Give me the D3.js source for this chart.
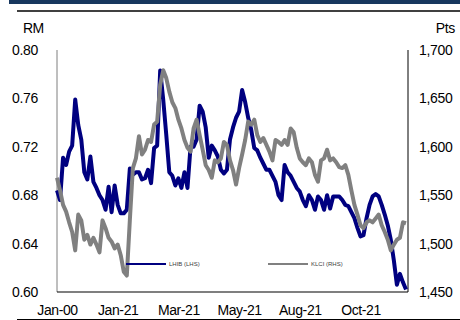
<!DOCTYPE html>
<html>
<head>
<meta charset="utf-8">
<script src="https://cdn.jsdelivr.net/npm/d3@7"></script>
<style>
  body { margin: 0; background: #fff; }
  text { font-family: Arial, "Liberation Sans", sans-serif; }
</style>
</head>
<body>
<div id="chart"></div>
<script>
// x axis labels (Excel category axis, one label every 20 points)
const xLabels = ["Jan-00", "Jan-21", "Mar-21", "May-21", "Aug-21", "Oct-21"];
const xLabelIdx = [0, 20, 40, 60, 80, 100];

const leftTicks = [0.60, 0.64, 0.68, 0.72, 0.76, 0.80];
const rightTicks = [1450, 1500, 1550, 1600, 1650, 1700];

// LHIB share price, RM (left axis)
const lhib = [
  0.684, 0.676, 0.711, 0.705, 0.716, 0.721, 0.759, 0.738, 0.726, 0.699,
  0.693, 0.712, 0.691, 0.686, 0.680, 0.676, 0.668, 0.687, 0.666, 0.688,
  0.672, 0.665, 0.665, 0.668, 0.702, 0.697, 0.699, 0.699, 0.693, 0.694,
  0.701, 0.690, 0.719, 0.721, 0.783, 0.759, 0.730, 0.699, 0.696, 0.688,
  0.694, 0.686, 0.699, 0.686, 0.720, 0.720, 0.726, 0.754, 0.749, 0.736,
  0.711, 0.721, 0.717, 0.712, 0.701, 0.698, 0.701, 0.726, 0.736, 0.744,
  0.749, 0.767, 0.757, 0.744, 0.734, 0.719, 0.717, 0.711, 0.706, 0.701,
  0.701, 0.696, 0.691, 0.680, 0.676, 0.705, 0.699, 0.696, 0.691, 0.686,
  0.683, 0.676, 0.671, 0.680, 0.676, 0.668, 0.679, 0.676, 0.668, 0.680,
  0.669, 0.679, 0.679, 0.679, 0.676, 0.672, 0.671, 0.666, 0.661, 0.653,
  0.646, 0.647, 0.661, 0.672, 0.679, 0.681, 0.679, 0.672, 0.664, 0.655,
  0.643, 0.626, 0.606, 0.615, 0.608, 0.602
];

// KLCI index, pts (right axis)
const klci = [
  1568, 1555, 1540, 1533, 1522, 1512, 1493, 1530, 1524, 1504,
  1509, 1499, 1506, 1499, 1491, 1524, 1516, 1506, 1502, 1495,
  1499, 1488, 1471, 1467, 1524, 1578, 1588, 1611, 1592, 1597,
  1607, 1605, 1623, 1626, 1664, 1679, 1671, 1657, 1646, 1640,
  1628, 1619, 1607, 1599, 1595, 1619, 1628, 1612, 1597, 1581,
  1576, 1568, 1586, 1584, 1588, 1605, 1602, 1586, 1576, 1561,
  1578, 1592, 1607, 1626, 1623, 1628, 1612, 1605, 1609, 1602,
  1595, 1586, 1607, 1605, 1602, 1607, 1602, 1619, 1615, 1599,
  1588, 1584, 1581, 1588, 1584, 1571, 1564, 1586, 1588, 1597,
  1586, 1588, 1584, 1579, 1578, 1581, 1571, 1555, 1540, 1530,
  1519, 1516, 1522, 1524, 1522, 1526, 1530, 1519, 1512, 1504,
  1493, 1499, 1504, 1506, 1522, 1521
];

const width = 460, height = 320;
const plotL = 57, plotR = 408, plotT = 50, plotB = 292;

let svg = d3.select("#chart").append("svg")
    .attr("width", width)
    .attr("height", height);

// header band and rules
svg.append("rect")
    .attr("x", 9).attr("y", 0)
    .attr("width", width - 9).attr("height", 4)
    .attr("fill", "#17375e");
svg.append("line")
    .attr("x1", 17).attr("x2", width)
    .attr("y1", 11).attr("y2", 11)
    .attr("stroke", "#000").attr("stroke-width", 1.5);
svg.append("line")
    .attr("x1", 17).attr("x2", width)
    .attr("y1", 319.5).attr("y2", 319.5)
    .attr("stroke", "#000").attr("stroke-width", 1);

let xScale = d3.scaleLinear()
    .domain([0, lhib.length - 1])
    .range([plotL, 406]);
let yLeft = d3.scaleLinear()
    .domain([0.60, 0.80])
    .range([plotB, plotT]);
let yRight = d3.scaleLinear()
    .domain([1450, 1700])
    .range([plotB, plotT]);

// axes
let yAxisL = svg.append("g").attr("class", "y-axis-left")
    .attr("transform", "translate(" + plotL + ",0)")
    .call(d3.axisLeft(yLeft).tickValues(leftTicks).tickFormat(d3.format(".2f"))
        .tickSize(0).tickPadding(19));
let yAxisR = svg.append("g").attr("class", "y-axis-right")
    .attr("transform", "translate(" + plotR + ",0)")
    .call(d3.axisRight(yRight).tickValues(rightTicks).tickFormat(d3.format(","))
        .tickSize(0).tickPadding(11));
let xAxis = svg.append("g").attr("class", "x-axis")
    .attr("transform", "translate(0," + plotB + ")")
    .call(d3.axisBottom(xScale).tickValues(xLabelIdx)
        .tickFormat((d, i) => xLabels[i])
        .tickSize(0).tickPadding(13));

svg.selectAll(".y-axis-left .domain, .y-axis-right .domain, .x-axis .domain").remove();
svg.selectAll(".y-axis-left text, .y-axis-right text")
    .style("font-size", "14px").attr("fill", "#000").style("letter-spacing", "-0.3px");
svg.selectAll(".x-axis text")
    .style("font-size", "14px").attr("fill", "#000").style("letter-spacing", "-0.4px");

// plot frame lines
svg.append("line")
    .attr("x1", plotL).attr("x2", plotL).attr("y1", plotT).attr("y2", plotB)
    .attr("stroke", "#7f7f7f").attr("stroke-width", 1);
svg.append("line")
    .attr("x1", plotR).attr("x2", plotR).attr("y1", plotT).attr("y2", plotB)
    .attr("stroke", "#000").attr("stroke-width", 1);
svg.append("line")
    .attr("x1", plotL).attr("x2", plotR).attr("y1", plotB).attr("y2", plotB)
    .attr("stroke", "#000").attr("stroke-width", 1.2);

// unit labels
svg.append("text").text("RM")
    .attr("x", 23).attr("y", 33)
    .style("font-size", "14px").style("letter-spacing", "-0.5px");
svg.append("text").text("Pts")
    .attr("x", 455).attr("y", 33)
    .attr("text-anchor", "end")
    .style("font-size", "14px").style("letter-spacing", "-0.3px");

// lines
let lhibLine = d3.line()
    .x((d, i) => xScale(i))
    .y(d => yLeft(d));
let klciLine = d3.line()
    .x((d, i) => xScale(i))
    .y(d => yRight(d));

let series = [
    {name: "LHIB (LHS)", color: "#000080", path: lhibLine(lhib)},
    {name: "KLCI (RHS)", color: "#808080", path: klciLine(klci)}
];

svg.append("g").attr("id", "lines").selectAll("path")
    .data(series)
    .enter().append("path")
    .attr("d", d => d.path)
    .attr("fill", "none")
    .attr("stroke", d => d.color)
    .attr("stroke-width", 4)
    .attr("stroke-linejoin", "round");

// legend
let legendX = [126, 268];
let legend = svg.append("g").attr("class", "legend")
    .selectAll("g")
    .data(series)
    .enter().append("g")
    .attr("transform", (d, i) => "translate(" + legendX[i] + ",264)");
legend.append("line")
    .attr("x1", 0).attr("x2", 40)
    .attr("stroke", d => d.color)
    .attr("stroke-width", 2);
legend.append("text")
    .text(d => d.name)
    .attr("x", 43).attr("y", 2.2)
    .style("font-size", "6px")
    .attr("fill", "#404040");
</script>
</body>
</html>
